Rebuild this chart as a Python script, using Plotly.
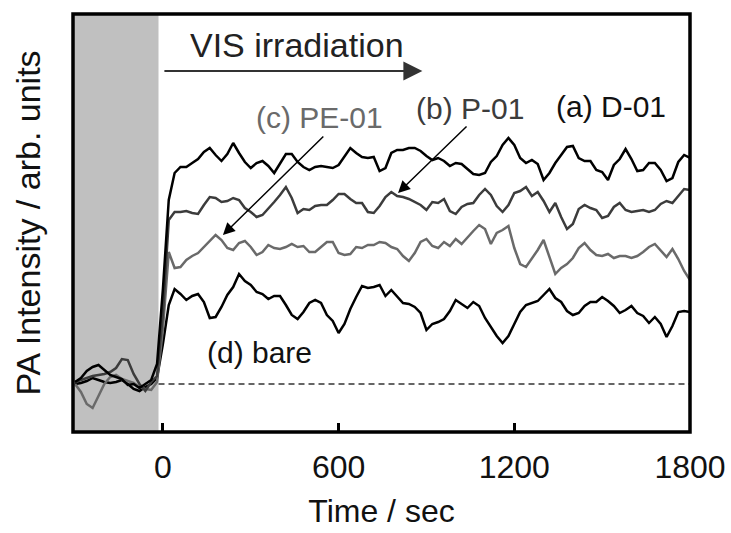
import plotly.graph_objects as go

# sampling grid (s)
time = list(range(-300, 1801, 20))

# PA intensity (arb. units, baseline = 0)
d01 = [2, 6, 13, 17, 19, 14, 9, 7, 5, -1, 0, -4, 0, 4, 20, 95,
       184, 211, 217, 217, 221, 225, 232, 236, 229, 223,
       230, 241, 231, 222, 216, 221, 223, 218, 211, 220,
       230, 230, 222, 217, 214, 217, 218, 217, 216, 219,
       227, 236, 231, 227, 226, 227, 213, 216, 231, 234,
       234, 236, 236, 233, 228, 224, 226, 223, 218, 221,
       220, 215, 210, 209, 211, 222, 228, 239, 246, 239,
       226, 221, 224, 220, 204, 211, 221, 229, 237, 238,
       226, 223, 223, 214, 212, 204, 219, 225, 235, 225,
       213, 214, 221, 221, 214, 203, 206, 222, 229, 226]

p01 = [2, 4, 6, 8, 9, 10, 12, 16, 25, 24, 10, 0, -7, 2, 8, 70,
       164, 172, 172, 173, 171, 170, 179, 187, 186, 182,
       183, 186, 184, 176, 172, 167, 169, 175, 182, 189,
       197, 186, 171, 175, 174, 178, 179, 179, 184, 190,
       190, 185, 181, 181, 172, 171, 178, 187, 192, 188,
       187, 185, 182, 179, 174, 182, 181, 185, 173, 170,
       177, 180, 181, 189, 195, 189, 178, 172, 179, 191,
       193, 197, 188, 192, 183, 172, 181, 167, 155, 160,
       175, 179, 176, 174, 166, 168, 177, 181, 174, 172,
       173, 174, 172, 174, 180, 183, 181, 188, 195, 194]

pe01 = [0, -8, -20, -24, -12, 0, 7, 9, 5, 3, 1, -3, -5, -6, 2, 55,
        132, 116, 117, 124, 128, 131, 137, 143, 149, 144,
        136, 134, 141, 143, 137, 129, 132, 139, 136, 135,
        137, 140, 137, 138, 132, 132, 137, 142, 142, 131,
        129, 130, 137, 136, 139, 139, 142, 141, 137, 135,
        128, 123, 131, 142, 145, 138, 136, 142, 138, 145,
        140, 147, 153, 159, 155, 140, 151, 154, 158, 136,
        120, 117, 125, 134, 144, 128, 110, 116, 120, 126,
        136, 141, 134, 129, 128, 130, 126, 128, 128, 126,
        128, 132, 137, 140, 134, 127, 135, 125, 113, 104]

bare = [0, 1, 3, 6, 4, 2, 1, 2, 4, 0, -5, -7, -3, 0, 6, 40,
        79, 95, 90, 84, 88, 90, 82, 66, 67, 77,
        89, 97, 110, 103, 99, 92, 90, 85, 88, 88,
        79, 69, 65, 72, 81, 84, 81, 69, 63, 51,
        60, 75, 87, 98, 96, 97, 99, 88, 94, 87,
        81, 80, 77, 71, 54, 60, 62, 65, 73, 84,
        80, 76, 82, 78, 66, 57, 48, 41, 48, 60,
        72, 79, 81, 83, 89, 95, 86, 82, 73, 69,
        71, 78, 82, 82, 87, 83, 78, 71, 74, 78,
        71, 68, 61, 67, 60, 47, 58, 72, 73, 72]

series = [
    ("(d) bare", bare, "#000000"),
    ("(c) PE-01", pe01, "#6a6a6a"),
    ("(b) P-01", p01, "#3c3c3c"),
    ("(a) D-01", d01, "#000000"),
]

FONT = "Liberation Sans, Arial, sans-serif"

fig = go.Figure()
for name, ys, col in series:
    fig.add_trace(go.Scatter(x=time, y=ys, mode="lines", name=name,
                             line=dict(color=col, width=2.5)))

# dark (pre-irradiation) period
fig.add_shape(type="rect", xref="x", yref="paper", x0=-307, x1=-15, y0=0, y1=1,
              fillcolor="#c0c0c0", line=dict(width=0), layer="below")
# baseline
fig.add_shape(type="line", xref="x", yref="y", x0=-15, x1=1800, y0=0, y1=0,
              line=dict(color="#333333", width=1.5, dash="6px,4px"))
# frame
fig.add_shape(type="rect", xref="paper", yref="paper", x0=0, x1=1, y0=0, y1=1,
              line=dict(color="black", width=3.5), fillcolor="rgba(0,0,0,0)", layer="above")

ann = []
# VIS irradiation arrow
ann.append(dict(x=886, y=313, ax=0, ay=313, xref="x", yref="y", axref="x", ayref="y",
                showarrow=True, arrowhead=2, arrowsize=1.9, arrowwidth=2,
                arrowcolor="#333333", text=""))
ann.append(dict(x=85, y=339, xref="x", yref="y", text="VIS irradiation", showarrow=False,
                xanchor="left", yanchor="middle", font=dict(family=FONT, size=34, color="#222222")))
labels = [("(c) PE-01", 536, 267, "#6a6a6a"), ("(b) P-01", 1048, 276, "#3c3c3c"),
          ("(a) D-01", 1530, 278, "#111111"), ("(d) bare", 331, 32, "#111111")]
for t, x, y, c in labels:
    ann.append(dict(x=x, y=y, xref="x", yref="y", text=t, showarrow=False,
                    font=dict(family=FONT, size=30, color=c)))
# pointer arrows
ann.append(dict(x=205, y=149, ax=553, ay=249, xref="x", yref="y", axref="x", ayref="y",
                showarrow=True, arrowhead=2, arrowsize=1.6, arrowwidth=1.5,
                arrowcolor="#000000", text=""))
ann.append(dict(x=803, y=191, ax=1042, ay=259, xref="x", yref="y", axref="x", ayref="y",
                showarrow=True, arrowhead=2, arrowsize=1.6, arrowwidth=1.5,
                arrowcolor="#000000", text=""))

fig.update_layout(
    width=731, height=533,
    margin=dict(l=73, r=41, t=14, b=101, autoexpand=False),
    paper_bgcolor="white", plot_bgcolor="white",
    showlegend=False,
    annotations=ann,
    font=dict(family=FONT, color="#111111"),
)
fig.update_xaxes(range=[-307, 1800], tickvals=[0, 600, 1200, 1800],
                 ticks="inside", ticklen=9, tickwidth=2.5, tickcolor="black",
                 showline=False, automargin=False,
                 showgrid=False, zeroline=False,
                 tickfont=dict(family=FONT, size=32, color="#111111"),
                 ticklabelstandoff=13,
                 title=dict(text="Time / sec", font=dict(family=FONT, size=32, color="#111111"),
                            standoff=15))
fig.update_yaxes(range=[-48, 370], showticklabels=False, ticks="",
                 showline=False, automargin=False,
                 showgrid=False, zeroline=False,
                 title=dict(text="PA Intensity / arb. units",
                            font=dict(family=FONT, size=34, color="#111111"), standoff=21))

fig.write_html("out.html", config={"displayModeBar": False},
               post_script="document.body.style.margin='0px';")
